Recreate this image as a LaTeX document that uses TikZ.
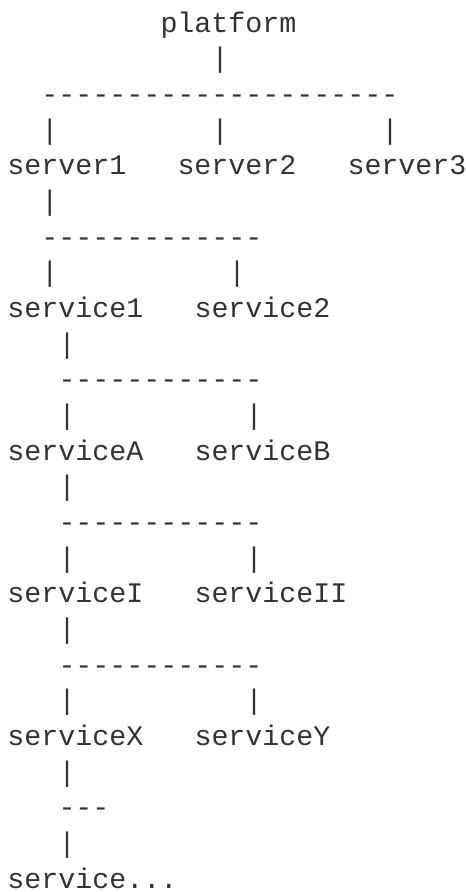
\documentclass[tikz,border=0pt]{standalone}
\usepackage{fontspec}
\newfontfamily\asciimono{Liberation Mono}
\definecolor{txtcol}{HTML}{333333}
\tikzset{
  txt/.style={font=\asciimono\fontsize{28.33}{34}\selectfont, anchor=base west, inner sep=0pt, outer sep=0pt, text=txtcol}
}
\newcommand\gp[2]{({7.5pt+17pt*#1},{-32pt-35.67pt*(#2-1)})}
\begin{document}
\begin{tikzpicture}
\useasboundingbox[fill=white] (0pt,0pt) rectangle (466pt,-892pt);
% row 1-5
\node[txt] (platform) at \gp{9}{1} {platform};
\node[txt] (p2) at \gp{12}{2} {|};
\node[txt] (d3) at \gp{2}{3} {---------------------};
\node[txt] (p4a) at \gp{2}{4} {|};
\node[txt] (p4b) at \gp{12}{4} {|};
\node[txt] (p4c) at \gp{22}{4} {|};
\node[txt] (server1) at \gp{0}{5} {server1};
\node[txt] (server2) at \gp{10}{5} {server2};
\node[txt] (server3) at \gp{20}{5} {server3};
% rows 6-9
\node[txt] (p6) at \gp{2}{6} {|};
\node[txt] (d7) at \gp{2}{7} {-------------};
\node[txt] (p8a) at \gp{2}{8} {|};
\node[txt] (p8b) at \gp{13}{8} {|};
\node[txt] (service1) at \gp{0}{9} {service1};
\node[txt] (service2) at \gp{11}{9} {service2};
% rows 10-13
\node[txt] (p10) at \gp{3}{10} {|};
\node[txt] (d11) at \gp{3}{11} {------------};
\node[txt] (p12a) at \gp{3}{12} {|};
\node[txt] (p12b) at \gp{14}{12} {|};
\node[txt] (serviceA) at \gp{0}{13} {serviceA};
\node[txt] (serviceB) at \gp{11}{13} {serviceB};
% rows 14-17
\node[txt] (p14) at \gp{3}{14} {|};
\node[txt] (d15) at \gp{3}{15} {------------};
\node[txt] (p16a) at \gp{3}{16} {|};
\node[txt] (p16b) at \gp{14}{16} {|};
\node[txt] (serviceI) at \gp{0}{17} {serviceI};
\node[txt] (serviceII) at \gp{11}{17} {serviceII};
% rows 18-21
\node[txt] (p18) at \gp{3}{18} {|};
\node[txt] (d19) at \gp{3}{19} {------------};
\node[txt] (p20a) at \gp{3}{20} {|};
\node[txt] (p20b) at \gp{14}{20} {|};
\node[txt] (serviceX) at \gp{0}{21} {serviceX};
\node[txt] (serviceY) at \gp{11}{21} {serviceY};
% rows 22-25
\node[txt] (p22) at \gp{3}{22} {|};
\node[txt] (d23) at \gp{3}{23} {---};
\node[txt] (p24) at \gp{3}{24} {|};
\node[txt] (servicedots) at \gp{0}{25} {service...};
\end{tikzpicture}
\end{document}
